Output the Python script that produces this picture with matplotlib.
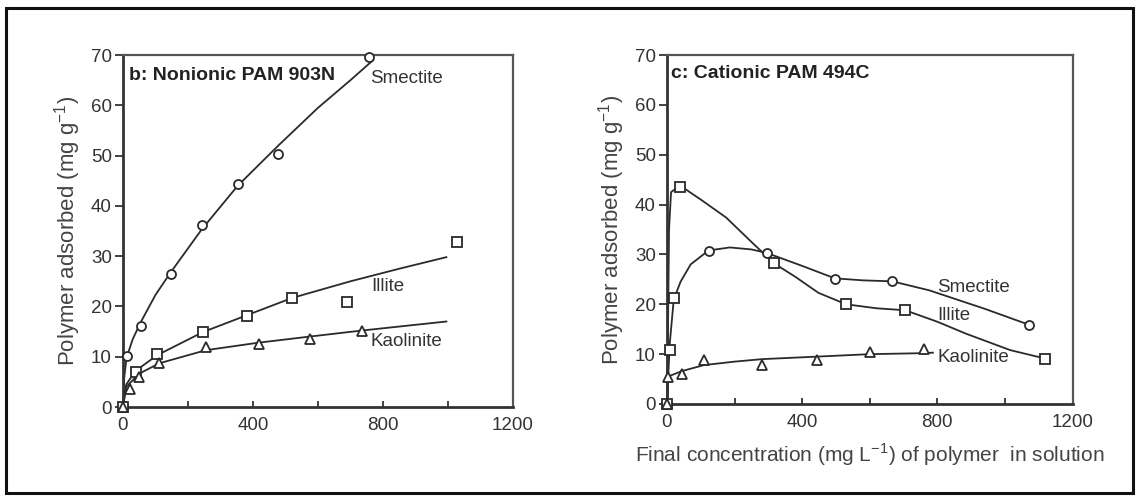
import matplotlib
matplotlib.use("Agg")
import matplotlib.pyplot as plt
from matplotlib.patches import Rectangle

plt.rcParams['font.family'] = ['Liberation Sans', 'DejaVu Sans']

# ---------------- Data: panel b (Nonionic PAM 903N) ----------------
b_smectite_x = [0, 11, 54, 147, 242, 353, 478, 756]
b_smectite_y = [0, 10.1, 16.2, 26.4, 36.1, 44.3, 50.3, 69.7]
b_smectite_curve_x = [0, 4, 11, 30, 54, 100, 147, 242, 353, 478, 600, 700, 770]
b_smectite_curve_y = [0, 6, 9.8, 13.5, 16.8, 22.3, 26.8, 35.3, 44.0, 52.0, 59.5, 65.0, 69.0]

b_illite_x = [0, 39, 105, 246, 383, 521, 690, 1028]
b_illite_y = [0, 7.0, 10.5, 15.0, 18.0, 21.6, 20.9, 32.9]
b_illite_curve_x = [0, 10, 39, 105, 246, 383, 521, 700, 850, 995]
b_illite_curve_y = [0, 4.5, 7.2, 10.3, 14.9, 18.3, 21.7, 25.0, 27.5, 29.8]

b_kaolinite_x = [0, 21, 49, 112, 255, 418, 574, 734]
b_kaolinite_y = [0, 3.5, 6.0, 8.7, 11.9, 12.5, 13.6, 15.2]
b_kaolinite_curve_x = [0, 10, 49, 112, 255, 418, 574, 734, 995]
b_kaolinite_curve_y = [0, 4.0, 6.6, 8.7, 11.3, 12.8, 14.0, 15.2, 17.0]

# ---------------- Data: panel c (Cationic PAM 494C) ----------------
c_smectite_x = [0, 123, 295, 497, 667, 1071]
c_smectite_y = [0, 30.6, 30.3, 25.1, 24.6, 15.9]
c_smectite_curve_x = [0, 8, 20, 40, 70, 123, 186, 250, 295, 400, 497, 580, 667, 776, 940, 1071]
c_smectite_curve_y = [0, 12, 21, 24.5, 28, 30.8, 31.4, 31.0, 30.3, 27.7, 25.2, 24.8, 24.6, 22.8, 19.1, 15.9]

c_illite_x = [0, 9, 22, 39, 317, 530, 705, 1120]
c_illite_y = [0, 10.9, 21.2, 43.5, 28.2, 20.0, 18.8, 9.1]
c_illite_curve_x = [0, 3, 6, 12, 39, 100, 175, 250, 317, 380, 448, 530, 620, 705, 800, 885, 1016, 1120]
c_illite_curve_y = [0, 15, 35, 42.5, 43.8, 41.0, 37.4, 32.5, 28.2, 25.5, 22.3, 20.0, 19.2, 18.8, 16.5, 14.1, 10.8, 9.1]

c_kaolinite_x = [0, 3, 44, 109, 282, 443, 601, 762]
c_kaolinite_y = [0, 5.5, 6.0, 8.9, 7.9, 8.8, 10.4, 11.1]
c_kaolinite_curve_x = [0, 3, 44, 109, 200, 282, 443, 601, 762, 787]
c_kaolinite_curve_y = [0, 5.5, 6.6, 7.8, 8.5, 9.0, 9.5, 10.0, 10.2, 10.3]

x_ticks = [0, 400, 800, 1200]
x_minor = [200, 600, 1000]
y_ticks = [0, 10, 20, 30, 40, 50, 60, 70]

titles = ["b: Nonionic PAM 903N", "c: Cationic PAM 494C"]
ylabel = "Polymer adsorbed (mg g$^{\\mathregular{-1}}$)"
xlabel = "Final concentration (mg L$^{\\mathregular{-1}}$) of polymer  in solution"

LINE = '#2a2a2a'

fig = plt.figure(figsize=(11.39, 4.97), dpi=100)
ax_b = fig.add_axes([123/1139, 90/497, 390/1139, 352/497])
ax_c = fig.add_axes([667/1139, 93/497, 405.5/1139, 349/497])


def style(ax):
    ax.set_xlim(0, 1200)
    ax.set_ylim(0, 70)
    ax.set_xticks(x_ticks)
    ax.set_xticks(x_minor, minor=True)
    ax.set_yticks(y_ticks)
    ax.tick_params(axis='x', which='both', direction='in', length=4, width=1.3,
                   color='#333333', labelsize=13.5, labelcolor='#333333', pad=7)
    ax.tick_params(axis='y', direction='out', length=6, width=1.3,
                   color='#333333', labelsize=13.5, labelcolor='#333333', pad=2)
    for s in ['left', 'bottom']:
        ax.spines[s].set_linewidth(2.0)
        ax.spines[s].set_color('#333333')
    for s in ['top', 'right']:
        ax.spines[s].set_linewidth(1.6)
        ax.spines[s].set_color('#555555')
    ax.set_ylabel(ylabel, fontsize=16, color='#444444', labelpad=6)


def series(ax, cx, cy, mx, my, marker, ms):
    ax.plot(cx, cy, color=LINE, lw=1.3, clip_on=False, zorder=2)
    ax.plot(mx, my, linestyle='none', marker=marker, ms=ms, mfc='white',
            mec=LINE, mew=1.3, clip_on=False, zorder=3)


style(ax_b)
series(ax_b, b_smectite_curve_x, b_smectite_curve_y, b_smectite_x, b_smectite_y, 'o', 6.5)
series(ax_b, b_illite_curve_x, b_illite_curve_y, b_illite_x, b_illite_y, 's', 7)
series(ax_b, b_kaolinite_curve_x, b_kaolinite_curve_y, b_kaolinite_x, b_kaolinite_y, '^', 6.5)
ax_b.text(17, 66, titles[0], fontsize=14, fontweight='bold', color='#222222',
          ha='left', va='center')
ax_b.text(760, 65.4, "Smectite", fontsize=13.5, color='#333333', ha='left', va='center')
ax_b.text(763, 23.9, "Illite", fontsize=13.5, color='#333333', ha='left', va='center')
ax_b.text(763, 13.0, "Kaolinite", fontsize=13.5, color='#333333', ha='left', va='center')

style(ax_c)
series(ax_c, c_smectite_curve_x, c_smectite_curve_y, c_smectite_x, c_smectite_y, 'o', 6.5)
series(ax_c, c_illite_curve_x, c_illite_curve_y, c_illite_x, c_illite_y, 's', 7)
series(ax_c, c_kaolinite_curve_x, c_kaolinite_curve_y, c_kaolinite_x, c_kaolinite_y, '^', 6.5)
ax_c.text(12, 66.3, titles[1], fontsize=14, fontweight='bold', color='#222222',
          ha='left', va='center')
ax_c.text(800, 23.4, "Smectite", fontsize=13.5, color='#333333', ha='left', va='center')
ax_c.text(800, 17.8, "Illite", fontsize=13.5, color='#333333', ha='left', va='center')
ax_c.text(800, 9.4, "Kaolinite", fontsize=13.5, color='#333333', ha='left', va='center')
ax_c.set_xlabel(xlabel, fontsize=15, color='#444444', labelpad=8)

# outer frame
fig.patches.append(Rectangle((6/1139, 4/497), 1127/1139, 485/497, transform=fig.transFigure,
                             fill=False, edgecolor='#111111', linewidth=2.2))

fig.savefig("out.png", dpi=100)
